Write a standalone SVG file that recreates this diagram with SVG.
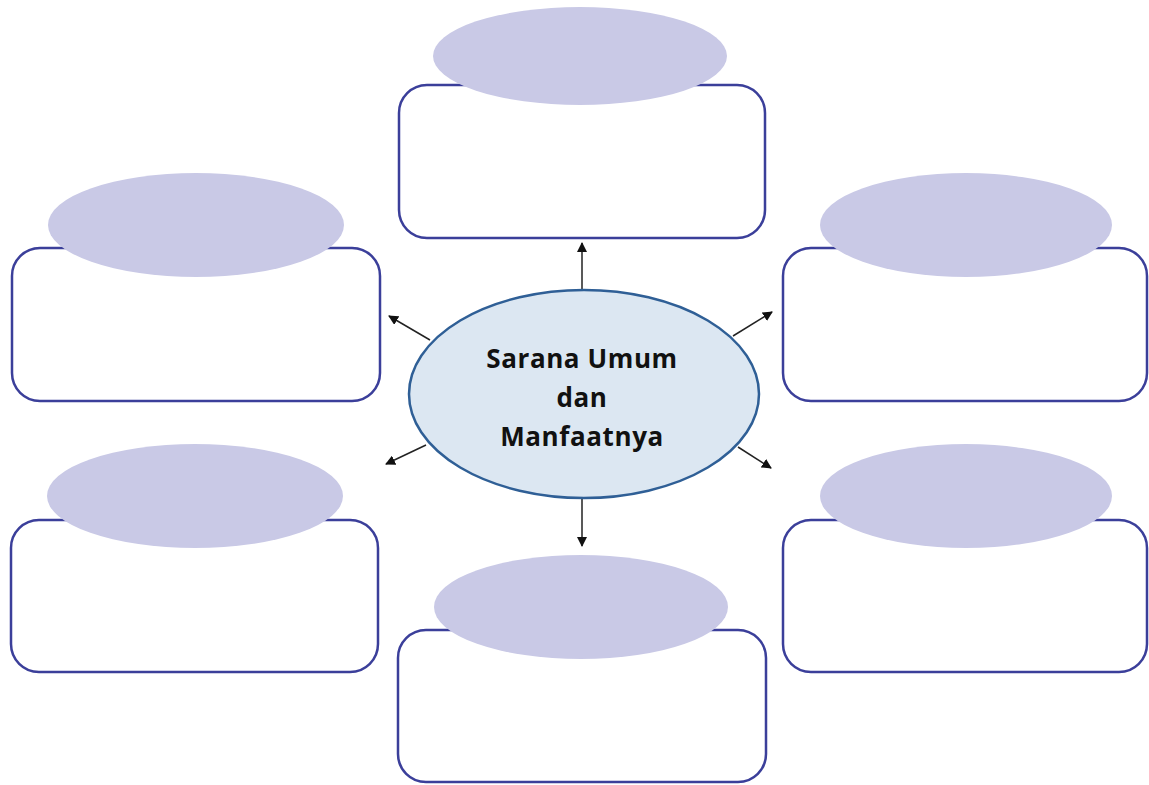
<svg xmlns="http://www.w3.org/2000/svg" width="1149" height="785" viewBox="0 0 1149 785">
<style>
.box{fill:#ffffff;stroke:#3b3f9a;stroke-width:2.5}
.cap{fill:#c9c9e6}
.conn{stroke:#222;stroke-width:1.5;fill:none;marker-end:url(#ah)}
.ctr{fill:#dce7f2;stroke:#2f5f96;stroke-width:2.5}
.lbl{font-family:"Open Sans","Liberation Sans",sans-serif;font-weight:700;font-size:26px;letter-spacing:0.6px;fill:#111;text-anchor:middle}
</style>
<defs>
<marker id="ah" markerWidth="10" markerHeight="10" refX="9" refY="5" orient="auto" markerUnits="userSpaceOnUse">
<path d="M0,0 L10,5 L0,10 z" fill="#111"/>
</marker>
</defs>
<rect width="1149" height="785" fill="#ffffff"/>
<g id="connectors">
<line class="conn" x1="582" y1="289" x2="582" y2="243"/>
<line class="conn" x1="430" y1="340" x2="389" y2="316"/>
<line class="conn" x1="733" y1="336" x2="772" y2="312"/>
<line class="conn" x1="426" y1="445" x2="386" y2="464"/>
<line class="conn" x1="738" y1="447" x2="771" y2="468"/>
<line class="conn" x1="582" y1="499" x2="582" y2="546"/>
</g>
<g id="node-top">
<rect class="box" x="399" y="85" width="366" height="153" rx="28"/>
<ellipse class="cap" cx="580" cy="56" rx="147" ry="49"/>
</g>
<g id="node-upper-left">
<rect class="box" x="12" y="248" width="368" height="153" rx="28"/>
<ellipse class="cap" cx="196" cy="225" rx="148" ry="52"/>
</g>
<g id="node-upper-right">
<rect class="box" x="783" y="248" width="364" height="153" rx="28"/>
<ellipse class="cap" cx="966" cy="225" rx="146" ry="52"/>
</g>
<g id="node-lower-left">
<rect class="box" x="11" y="520" width="367" height="152" rx="28"/>
<ellipse class="cap" cx="195" cy="496" rx="148" ry="52"/>
</g>
<g id="node-lower-right">
<rect class="box" x="783" y="520" width="364" height="152" rx="28"/>
<ellipse class="cap" cx="966" cy="496" rx="146" ry="52"/>
</g>
<g id="node-bottom">
<rect class="box" x="398" y="630" width="368" height="152" rx="28"/>
<ellipse class="cap" cx="581" cy="607" rx="147" ry="52"/>
</g>
<g id="node-center">
<ellipse class="ctr" cx="584" cy="394" rx="175" ry="104"/>
<text class="lbl" x="582" y="368">Sarana Umum</text>
<text class="lbl" x="582" y="407">dan</text>
<text class="lbl" x="582" y="446">Manfaatnya</text>
</g>
</svg>
